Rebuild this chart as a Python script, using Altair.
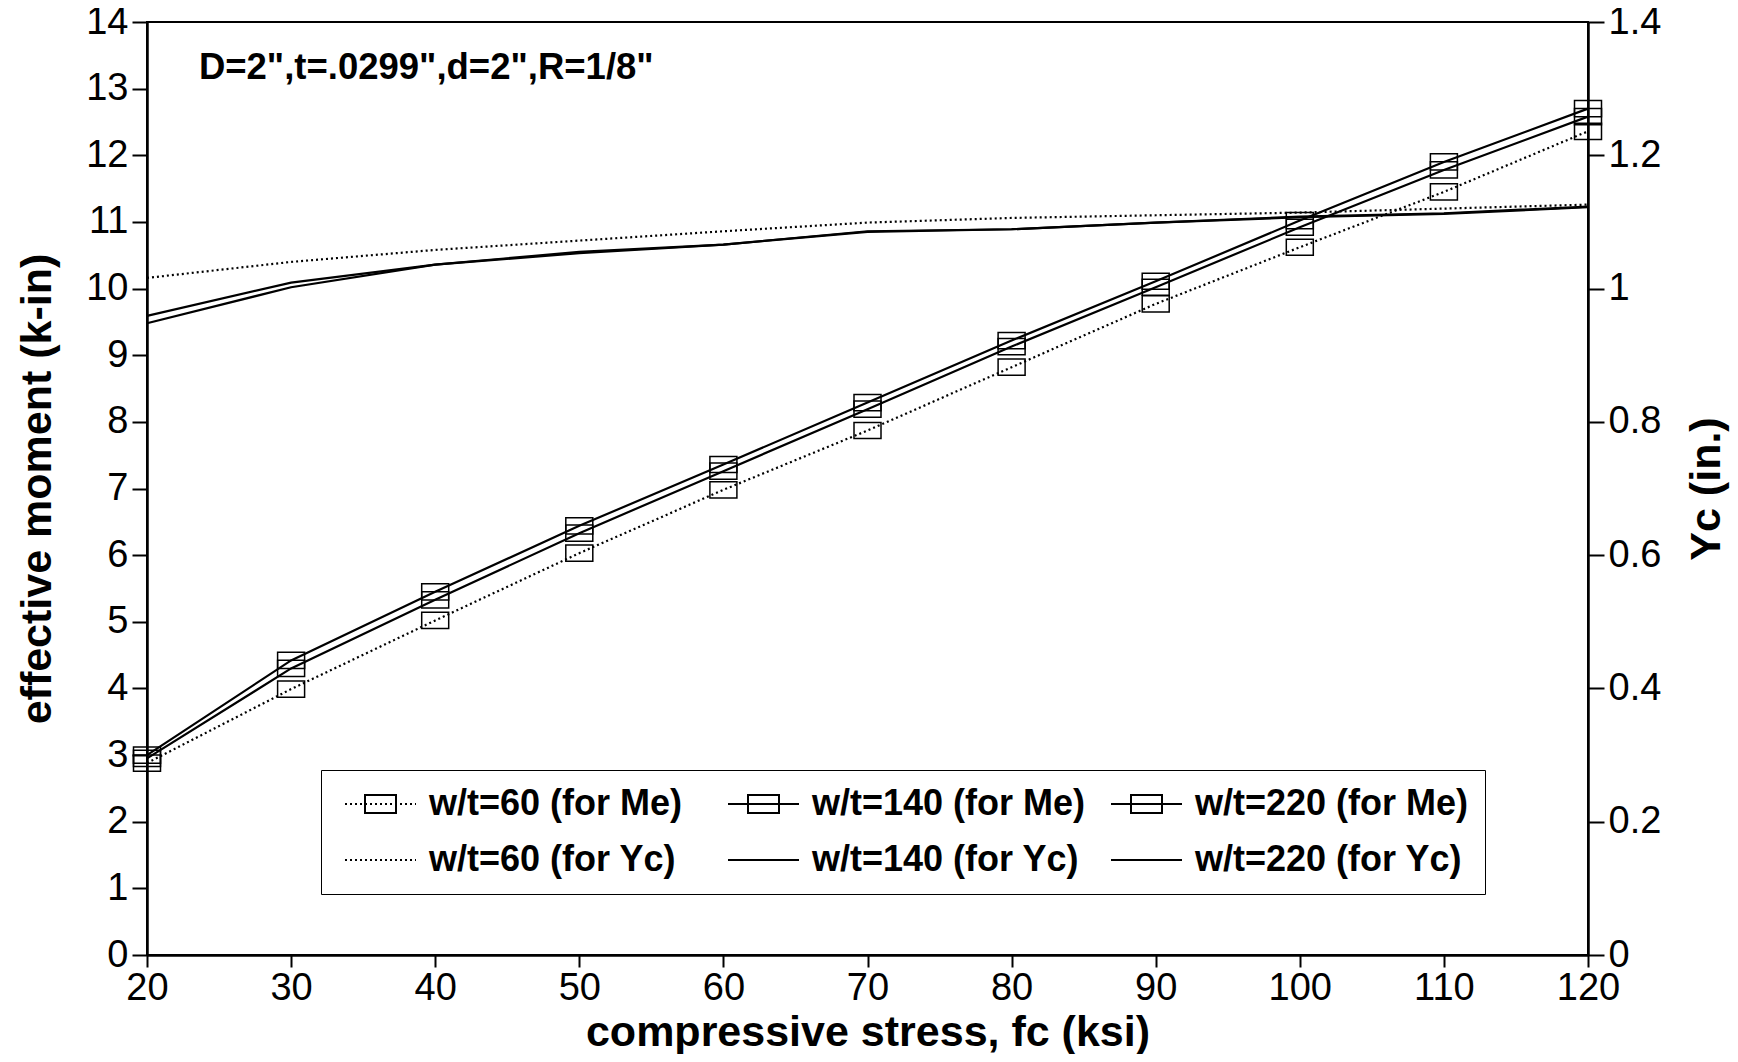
import altair as alt
import pandas as pd

# ---- data ----
fc_ksi = [20, 30, 40, 50, 60, 70, 80, 90, 100, 110, 120]

me_wt60 = [2.88, 3.99, 5.02, 6.03, 6.98, 7.87, 8.82, 9.77, 10.62, 11.45, 12.36]
me_wt140 = [2.95, 4.30, 5.33, 6.33, 7.26, 8.19, 9.13, 10.02, 10.92, 11.78, 12.58]
me_wt220 = [3.00, 4.42, 5.45, 6.44, 7.36, 8.29, 9.22, 10.11, 11.02, 11.90, 12.70]

yc_wt60 = [1.016, 1.040, 1.058, 1.072, 1.086, 1.099, 1.106, 1.110, 1.114, 1.120, 1.126]
yc_wt140 = [0.948, 1.002, 1.036, 1.053, 1.066, 1.085, 1.089, 1.099, 1.107, 1.112, 1.122]
yc_wt220 = [0.959, 1.009, 1.036, 1.055, 1.066, 1.086, 1.089, 1.099, 1.108, 1.113, 1.123]

series_labels = [
    "w/t=60 (for Me)", "w/t=140 (for Me)", "w/t=220 (for Me)",
    "w/t=60 (for Yc)", "w/t=140 (for Yc)", "w/t=220 (for Yc)",
]

x_ticks = [20, 30, 40, 50, 60, 70, 80, 90, 100, 110, 120]
left_ticks = list(range(0, 15))
right_ticks = [0, 0.2, 0.4, 0.6, 0.8, 1, 1.2, 1.4]

note_text = ['D=2",t=.0299",d=2",R=1/8"']
note_fc = [23.6]
note_val = [13.15]

# ---- tables ----
me_rows = []
for name, vals in zip(series_labels[:3], [me_wt60, me_wt140, me_wt220]):
    for x, v in zip(fc_ksi, vals):
        me_rows.append({"fc": x, "value": v, "series": name})
me_df = pd.DataFrame(me_rows)

yc_rows = []
for name, vals in zip(series_labels[3:], [yc_wt60, yc_wt140, yc_wt220]):
    for x, v in zip(fc_ksi, vals):
        yc_rows.append({"fc": x, "yc": v, "series": name})
yc_df = pd.DataFrame(yc_rows)

note_df = pd.DataFrame({"fc": note_fc, "value": note_val, "text": note_text})
legend_df = pd.DataFrame({"series": series_labels})

FONT = "Liberation Sans"
DOTTED = [2, 3]
DOTTED_SERIES = [series_labels[0], series_labels[3]]


# ---- legend symbol glyphs (units of 10 px) ----
def dotted_path(x0, x1, on=0.2, off=0.3):
    parts = []
    x = x0
    while x < x1:
        parts.append(f"M{x:.2f},0H{min(x + on, x1):.2f}")
        x += on + off
    return "".join(parts)


SOLID_LINE = "M-1,0H6.1"
DOT_LINE = dotted_path(-1, 6.1)
BOX = "M1,-0.9H4.1V0.9H1Z"
legend_shapes = [
    DOT_LINE + BOX, SOLID_LINE + BOX, SOLID_LINE + BOX,
    DOT_LINE, SOLID_LINE, SOLID_LINE,
]

legend = alt.Legend(
    title=None,
    orient="none",
    direction="horizontal",
    legendX=174,
    legendY=748,
    columns=3,
    gridAlign="all",
    columnPadding=17,
    rowPadding=20,
    padding=16,
    strokeColor="black",
    fillColor="white",
    labelFont=FONT,
    labelFontSize=36,
    labelFontWeight="bold",
    labelColor="black",
    labelOffset=56,
    labelLimit=400,
    symbolSize=400,
    symbolStrokeColor="black",
    symbolStrokeWidth=2,
    symbolFillColor="transparent",
    symbolOpacity=1,
)

x_enc = alt.X(
    "fc:Q",
    scale=alt.Scale(domain=[20, 120], nice=False, zero=False),
    axis=alt.Axis(
        values=x_ticks,
        title="compressive stress, fc (ksi)",
        labelPadding=2,
        titlePadding=4,
        tickSize=12,
        labelFlush=False,
    ),
)

y_left = alt.Y(
    "value:Q",
    scale=alt.Scale(domain=[0, 14], nice=False),
    axis=alt.Axis(
        values=left_ticks,
        orient="left",
        title="effective moment (k-in)",
        labelPadding=4,
        titlePadding=26,
        tickSize=15,
        labelFlush=False,
    ),
)

y_right = alt.Y(
    "yc:Q",
    scale=alt.Scale(domain=[0, 1.4], nice=False),
    axis=alt.Axis(
        values=right_ticks,
        orient="right",
        format="~g",
        title="Yc (in.)",
        titleAngle=270,
        titleBaseline="top",
        labelPadding=4,
        titlePadding=25,
        tickSize=16,
        labelFlush=False,
    ),
)

is_dotted = alt.FieldOneOfPredicate(field="series", oneOf=DOTTED_SERIES)
not_dotted = alt.LogicalNotPredicate(**{"not": is_dotted})

me_dotted = (
    alt.Chart(me_df)
    .transform_filter(is_dotted)
    .mark_line(color="black", strokeWidth=2.2, strokeDash=DOTTED)
    .encode(x=x_enc, y=y_left, detail="series:N")
)
me_solid = (
    alt.Chart(me_df)
    .transform_filter(not_dotted)
    .mark_line(color="black", strokeWidth=2.2)
    .encode(x=x_enc, y=y_left, detail="series:N")
)

me_points = alt.Chart(me_df).mark_point(
    shape="M-1,-0.6H1V0.6H-1Z",
    size=729,
    filled=False,
    color="black",
    strokeWidth=1.5,
    opacity=1,
).encode(x=x_enc, y=y_left, detail="series:N")

# legend carrier: invisible marks that only supply the legend via the shape scale
legend_carrier = alt.Chart(legend_df).mark_point(
    filled=False, color="black", opacity=0
).encode(
    shape=alt.Shape(
        "series:N",
        scale=alt.Scale(domain=series_labels, range=legend_shapes),
        legend=legend,
    ),
)

note = alt.Chart(note_df).mark_text(
    align="left",
    baseline="alphabetic",
    font=FONT,
    fontSize=36.5,
    fontWeight="bold",
    color="black",
).encode(x=x_enc, y=y_left, text="text:N")

yc_dotted = (
    alt.Chart(yc_df)
    .transform_filter(is_dotted)
    .mark_line(color="black", strokeWidth=2.2, strokeDash=DOTTED)
    .encode(x=x_enc, y=y_right, detail="series:N")
)
yc_solid = (
    alt.Chart(yc_df)
    .transform_filter(not_dotted)
    .mark_line(color="black", strokeWidth=2.2)
    .encode(x=x_enc, y=y_right, detail="series:N")
)

left = alt.layer(me_dotted, me_solid, me_points, note, legend_carrier)
right = alt.layer(yc_dotted, yc_solid)
chart = (
    alt.layer(left, right)
    .resolve_scale(y="independent")
    .properties(
        width=1441,
        height=933,
        autosize=alt.AutoSizeParams(type="none"),
        padding={"left": 139, "top": 14, "right": 142, "bottom": 99},
        background="white",
    )
    .configure_view(stroke="black", strokeWidth=2)
    .configure_axis(
        grid=False,
        domainColor="black",
        domainWidth=2.5,
        tickColor="black",
        tickWidth=2,
        labelFont=FONT,
        labelFontSize=38,
        labelColor="black",
        titleFont=FONT,
        titleFontSize=43,
        titleFontWeight="bold",
        titleColor="black",
    )
)

chart.save("out.html", embed_options={"renderer": "svg", "actions": False})
